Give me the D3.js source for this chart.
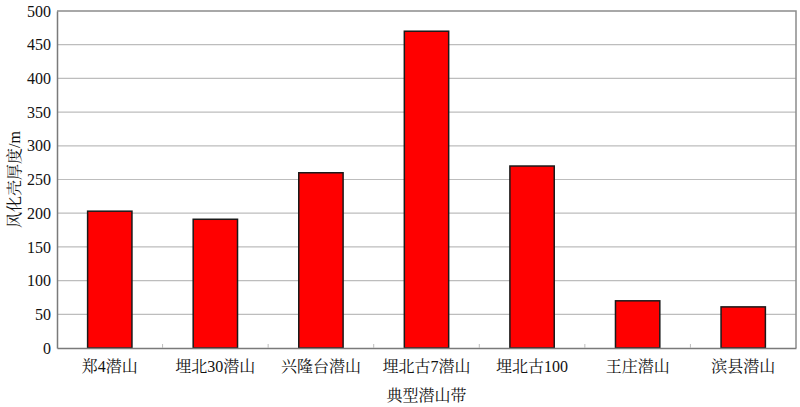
<!DOCTYPE html>
<html>
<head>
<meta charset="utf-8">
<script src="https://cdn.jsdelivr.net/npm/d3@7"></script>
<style>
  body { margin: 0; background: #fff; }
  svg { display: block; }
  text { font-family: "Liberation Serif", "Noto Serif CJK SC", "Noto Sans CJK SC", serif; fill: #111; }
</style>
</head>
<body>
<svg id="chart" width="800" height="407"></svg>
<script>
var categories = ['郑4潜山', '埋北30潜山', '兴隆台潜山', '埋北古7潜山', '埋北古100', '王庄潜山', '滨县潜山'];
var thickness  = [203, 191, 260, 470, 270, 70, 61];
var yTicks     = [0, 50, 100, 150, 200, 250, 300, 350, 400, 450, 500];

var margin = { top: 11, right: 4, bottom: 59, left: 57 };
var svg    = d3.select('#chart');
var width  = 800 - margin.left - margin.right;
var height = 407 - margin.top - margin.bottom;

var g = svg.append('g')
    .attr('transform', `translate(${ margin.left }, ${ margin.top })`)
;

var x = d3.scaleBand()
    .domain(categories)
    .range([0, width])
    .paddingInner(0.58)
    .paddingOuter(0.29)
;

var y = d3.scaleLinear()
    .domain([0, 500])
    .range([height, 0])
;

// grid
g.selectAll('.grid')
    .data(yTicks.filter(t => t > 0 && t < 500))
    .enter().append('line')
    .attr('class', 'grid')
    .attr('x1', 0)
    .attr('x2', width)
    .attr('y1', d => y(d))
    .attr('y2', d => y(d))
    .attr('stroke', '#bdbdbd')
    .attr('stroke-width', 1.2)
;

// frame top / right
g.append('path')
    .attr('d', `M0,${ y(500) }H${ width }V${ height }`)
    .attr('fill', 'none')
    .attr('stroke', '#8c8c8c')
    .attr('stroke-width', 1.5)
;

// bars
g.selectAll('.bar')
    .data(thickness)
    .enter().append('rect')
    .attr('class', 'bar')
    .attr('x', (d, i) => x(categories[i]))
    .attr('y', d => y(d))
    .attr('width', x.bandwidth())
    .attr('height', d => height - y(d))
    .attr('fill', '#ff0000')
    .attr('stroke', '#1a1a1a')
    .attr('stroke-width', 1.5)
;

// y axis
var yAxis = g.append('g')
    .call(d3.axisLeft(y).tickValues(yTicks).tickSize(0).tickPadding(6))
;
yAxis.select('.domain').attr('stroke', '#7a7a7a').attr('stroke-width', 1.5);
yAxis.selectAll('text').style('font-size', '16px');

// x axis
var xAxis = g.append('g')
    .attr('transform', `translate(0, ${ height })`)
    .call(d3.axisBottom(x).tickSize(0).tickPadding(13))
;
xAxis.select('.domain').attr('stroke', '#7a7a7a').attr('stroke-width', 1.5);
xAxis.selectAll('text').style('font-size', '16px');

// category separators
g.selectAll('.sep')
    .data(categories.slice(1))
    .enter().append('line')
    .attr('class', 'sep')
    .attr('x1', d => x(d) - x.step() * x.paddingOuter())
    .attr('x2', d => x(d) - x.step() * x.paddingOuter())
    .attr('y1', height)
    .attr('y2', height - 4)
    .attr('stroke', '#bdbdbd')
;

// titles
svg.append('text')
    .attr('x', margin.left + width / 2)
    .attr('y', 401)
    .attr('text-anchor', 'middle')
    .style('font-size', '16px')
    .text('典型潜山带')
;

svg.append('text')
    .attr('transform', `translate(20, ${ margin.top + height / 2 }) rotate(-90)`)
    .attr('text-anchor', 'middle')
    .style('font-size', '16px')
    .text('风化壳厚度/m')
;
</script>
</body>
</html>
